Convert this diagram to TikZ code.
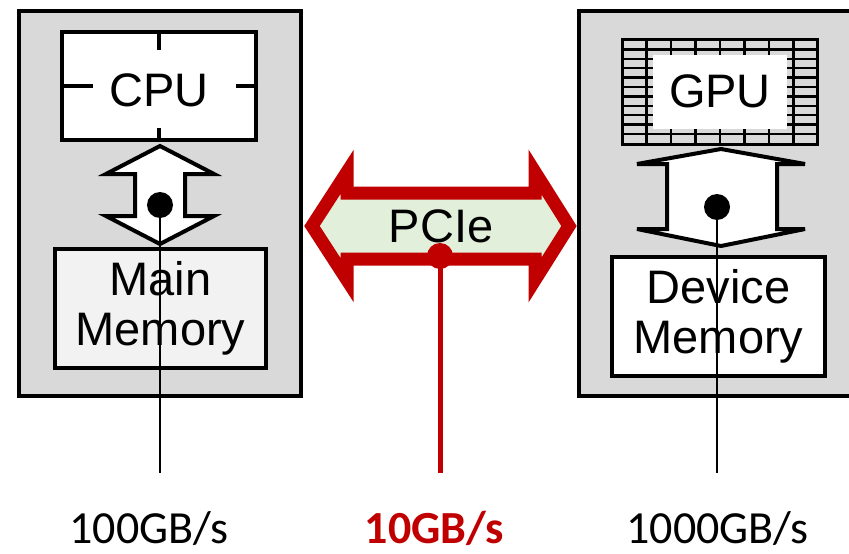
\documentclass[tikz,border=0pt]{standalone}
\usepackage{fontspec}
\setmainfont{Liberation Sans}
\newfontfamily\rateFont{Carlito}
\usetikzlibrary{positioning}
\definecolor{hostGray}{HTML}{D9D9D9}
\definecolor{memGray}{HTML}{F2F2F2}
\definecolor{pciRed}{HTML}{C00000}
\definecolor{pciGreen}{HTML}{E2EFDA}

\begin{document}
\begin{tikzpicture}[x=1pt,y=-1pt,line join=miter,
  every node/.style={font=\fontsize{47}{50}\selectfont},
  chip/.style={draw,line width=4pt,inner sep=0pt,align=center},
  dot/.style={circle,fill,inner sep=0pt,minimum size=26pt},
  rate/.style={font=\rateFont\fontsize{46}{46}\selectfont,anchor=base}]
\useasboundingbox (0,0) rectangle (849,554);
% host and device boards
\begin{scope}
\clip (0,0) rectangle (849,554);
\draw[line width=4pt,fill=hostGray] (19,11) rectangle (301,396);
\draw[line width=4pt,fill=hostGray] (579,11) rectangle (880,396);
\end{scope}
% host side
\node[chip,fill=white,minimum width=194pt,minimum height=108pt,text height=41pt,text depth=0pt] (cpu) at (159,86) {CPU};
\draw[line width=4pt] (cpu.north) -- ++(0,20) (cpu.south) -- ++(0,-14)
  (cpu.west) -- ++(33,0) (cpu.east) -- ++(-22,0);
\draw[line width=4pt,fill=white] (160,146) -- (106,174) -- (135,174) -- (135,216) -- (106,216)
  -- (160,244) -- (214,216) -- (185,216) -- (185,174) -- (214,174) -- cycle;
\node[chip,fill=memGray,minimum width=211pt,minimum height=119pt] (mainmem) at (160.5,308.5) {Main\\Memory};
\node[dot] (hostdot) at (160,205) {};
\coordinate (hostend) at (160,473);
\draw[line width=1.5pt] (hostdot.center) -- (hostend);
% device side
\foreach \i in {1,...,7} \draw[line width=2.5pt] ({622+24.5*\i},40) -- ++(0,103);
\foreach \j in {1,...,10} \draw[line width=2.5pt] (622,{40+9.4*\j}) -- ++(196,0);
\fill[white] (653,55) rectangle (787,129);
\node[chip,line width=3pt,minimum width=195pt,minimum height=105pt] (gpu) at (720,91.5) {GPU};
\draw[line width=4pt,fill=white] (721,149) -- (637,164) -- (667,164) -- (667,229) -- (637,229)
  -- (721,246) -- (805,229) -- (777,229) -- (777,164) -- (805,164) -- cycle;
\node[chip,fill=white,minimum width=213pt,minimum height=119pt] (devmem) at (718.5,316.5) {Device\\Memory};
\node[dot] (devdot) at (717,207) {};
\coordinate (devend) at (717,473);
\draw[line width=1.5pt] (devdot.center) -- (devend);
% PCIe link
\draw[pciRed,line width=13pt,fill=pciGreen] (312,226) -- (347,172) -- (347,193) -- (535,193) -- (535,172)
  -- (569,226) -- (535,280) -- (535,259) -- (347,259) -- (347,280) -- cycle;
\node (pcie) at (441,226) {PCIe};
\node[dot,pciRed] (pcidot) at (440,256) {};
\coordinate (pciend) at (440,473);
\draw[pciRed,line width=5pt] (pcidot.center) -- (pciend);
% bandwidth labels
\node[rate] (hostrate) at (149,543) {100GB/s};
\node[rate,pciRed,font=\rateFont\bfseries\fontsize{46}{46}\selectfont] (pcirate) at (434,543) {10GB/s};
\node[rate] (devrate) at (717.5,543) {1000GB/s};
\end{tikzpicture}
\end{document}
